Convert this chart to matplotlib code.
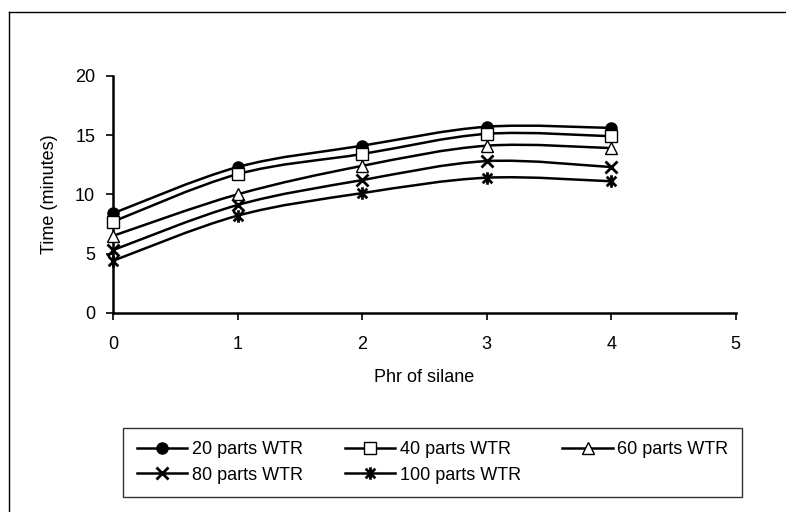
import matplotlib
matplotlib.use("Agg")
import matplotlib.pyplot as plt
from matplotlib.path import Path
from matplotlib.patches import PathPatch
from matplotlib.lines import Line2D
import numpy as np

plt.rcParams['font.family'] = ['Liberation Sans', 'DejaVu Sans']

# data
phr = [0, 1, 2, 3, 4]
wtr_20 = [8.4, 12.3, 14.1, 15.7, 15.6]
wtr_40 = [7.7, 11.7, 13.4, 15.1, 14.9]
wtr_60 = [6.5, 10.0, 12.4, 14.1, 13.9]
wtr_80 = [5.3, 9.1, 11.2, 12.8, 12.3]
wtr_100 = [4.4, 8.2, 10.1, 11.4, 11.1]
labels = ['20 parts WTR', '40 parts WTR', '60 parts WTR', '80 parts WTR', '100 parts WTR']

# X with a vertical bar (excel "star" marker)
star = Path([(-1, -1), (1, 1), (-1, 1), (1, -1), (0, -1.3), (0, 1.3)],
            [Path.MOVETO, Path.LINETO, Path.MOVETO, Path.LINETO, Path.MOVETO, Path.LINETO])

styles = [
    dict(marker='o', mfc='black', ms=8),
    dict(marker='s', mfc='white', ms=8),
    dict(marker='^', mfc='white', ms=8),
    dict(marker='x', mfc='none', ms=8, mew=2),
    dict(marker=star, mfc='none', ms=9, mew=2),
]


def smooth_path(x, y):
    # bezier segments through the points (excel style smoothing)
    pts = np.column_stack([x, y]).astype(float)
    ext = np.vstack([pts[0], pts, pts[-1]])
    verts = [tuple(pts[0])]
    codes = [Path.MOVETO]
    for i in range(len(pts) - 1):
        p0, p1, p2, p3 = ext[i], ext[i + 1], ext[i + 2], ext[i + 3]
        c1 = p1 + (p2 - p0) / 6.0
        c2 = p2 - (p3 - p1) / 6.0
        verts += [tuple(c1), tuple(c2), tuple(p2)]
        codes += [Path.CURVE4] * 3
    return Path(verts, codes)


fig = plt.figure(figsize=(7.86, 5.12), dpi=100)
ax = fig.add_axes([0.144, 0.389, 0.792, 0.463])

series = [wtr_20, wtr_40, wtr_60, wtr_80, wtr_100]
handles = []
for vals, st, lab in zip(series, styles, labels):
    ax.add_patch(PathPatch(smooth_path(phr, vals), fill=False, lw=1.8, color='black', zorder=2))
    ax.plot(phr, vals, linestyle='none', color='black', mec='black', zorder=3, clip_on=False, **st)
    handles.append(Line2D([], [], color='black', lw=1.8, mec='black', **st))

ax.set_xlim(0, 5)
ax.set_ylim(0, 20)
ax.set_xticks([0, 1, 2, 3, 4, 5])
ax.set_yticks([0, 5, 10, 15, 20])
ax.spines['top'].set_visible(False)
ax.spines['right'].set_visible(False)
ax.spines['left'].set_linewidth(1.8)
ax.spines['bottom'].set_linewidth(1.8)
ax.tick_params(axis='both', labelsize=13, direction='out', length=5, width=1.2)
ax.tick_params(axis='x', pad=12)
ax.tick_params(axis='y', pad=8)
ax.set_xlabel('Phr of silane', fontsize=13, labelpad=11)
ax.set_ylabel('Time (minutes)', fontsize=13, labelpad=12)

# row-major order for the 3-column legend
order = [0, 3, 1, 4, 2]
leg = fig.legend([handles[i] for i in order], [labels[i] for i in order],
                 ncol=3, loc='lower left', bbox_to_anchor=(0.157, 0.029),
                 fontsize=13, frameon=True, fancybox=False,
                 edgecolor='black', handlelength=2.8, handletextpad=0.25,
                 columnspacing=2.3, labelspacing=0.45, borderpad=0.75,
                 borderaxespad=0.0)
leg.get_frame().set_linewidth(1.0)

# outer chart border (only left and top show in the scan)
fig.add_artist(Line2D([0.011, 0.011], [0.0, 0.977], transform=fig.transFigure, color='black', lw=1.0))
fig.add_artist(Line2D([0.011, 1.0], [0.977, 0.977], transform=fig.transFigure, color='black', lw=1.0))

fig.savefig('out.png', dpi=100)
